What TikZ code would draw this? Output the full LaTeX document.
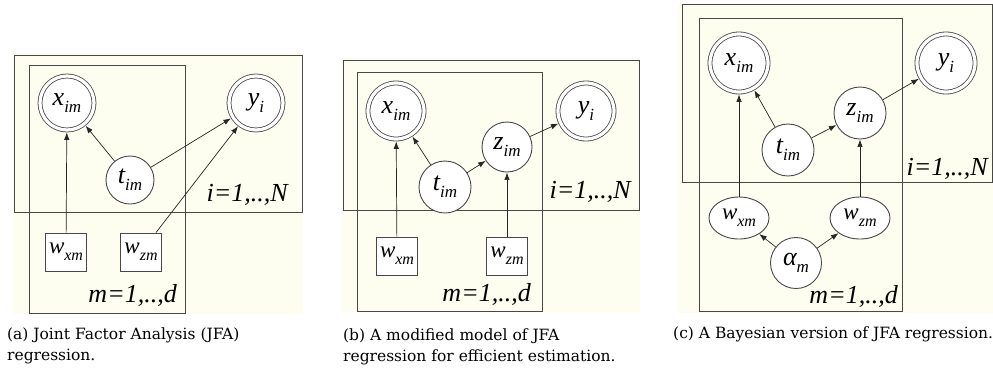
\documentclass[tikz,border=0pt]{standalone}
\usepackage{fontspec}
\setmainfont{Liberation Serif}
\newfontfamily\lblfont{Liberation Serif}
\newfontfamily\capfont{DejaVu Serif}
\usetikzlibrary{arrows.meta,shapes.geometric}
\definecolor{cream}{RGB}{253,253,240}
\definecolor{ln}{RGB}{72,72,72}
\newcommand\vlab[2]{\lblfont\fontsize{26}{26}\selectfont\itshape #1\raisebox{-7pt}{\fontsize{17}{17}\selectfont #2}}
\newcommand\wlab[2]{\lblfont\fontsize{23}{23}\selectfont\itshape #1\raisebox{-7pt}{\fontsize{16}{16}\selectfont #2}}
\tikzset{
  bg/.style={fill=cream, draw=none},
  plate/.style={draw=ln, line width=1pt},
  obs/.style={circle, draw=ln, double, double distance=3.2pt, line width=0.8pt, fill=white, inner sep=0pt, minimum size=#1, outer sep=2.4pt},
  lat/.style={circle, draw=ln, line width=0.9pt, fill=white, inner sep=0pt, minimum size=#1},
  sq/.style={rectangle, draw=ln, line width=0.9pt, fill=white, inner sep=0pt, minimum width=41pt, minimum height=38pt},
  ell/.style={ellipse, draw=ln, line width=0.9pt, fill=white, inner sep=0pt, minimum width=60pt, minimum height=42pt},
  arr/.style={draw=black!85, line width=0.7pt, -{Latex[length=7.5pt,width=5.5pt]}},
  platelab/.style={anchor=base east, inner sep=0pt, font=\lblfont\fontsize{26}{26}\selectfont\itshape},
  captxt/.style={anchor=base west, inner sep=0pt, font=\capfont\fontsize{15.5}{15.5}\selectfont}
}
\begin{document}
\begin{tikzpicture}[x=1pt,y=-1pt]
\useasboundingbox (0,0) rectangle (993,376);
% ---------- panel (a)
\path[bg] (13,53) rectangle (303,314);
\draw[plate] (14,55) rectangle (302,212);
\draw[plate] (29,65) rectangle (185,313);
\node[obs=54] (ax) at (67,103) {\vlab{x}{im}};
\node[obs=54] (ay) at (256,103) {\vlab{y}{i}};
\node[lat=48] (at) at (130,180) {\vlab{t}{im}};
\node[sq] (awx) at (66,252) {\wlab{w}{xm}};
\node[sq] (awz) at (141,252) {\wlab{w}{zm}};
\node[platelab] (ai) at (288,201) {i=1,..,N};
\node[platelab] (am) at (177,302) {m=1,..,d};
\draw[arr] (awx) -- (ax);
\draw[arr] (at) -- (ax);
\draw[arr] (at) -- (ay);
\draw[arr] (awz) -- (ay);
\node[captxt] (acap1) at (7,339) {(a) Joint Factor Analysis (JFA)};
\node[captxt] (acap2) at (7,360) {regression.};
% ---------- panel (b)
\path[bg] (342,58) rectangle (640,312);
\draw[plate] (343,60) rectangle (639,210);
\draw[plate] (357,72) rectangle (542,311);
\node[obs=56] (bx) at (396,111) {\vlab{x}{im}};
\node[obs=56] (by) at (586,111) {\vlab{y}{i}};
\node[lat=50] (bz) at (507,147) {\vlab{z}{im}};
\node[lat=52] (bt) at (445,187) {\vlab{t}{im}};
\node[sq] (bwx) at (397,256) {\wlab{w}{xm}};
\node[sq] (bwz) at (507,256) {\wlab{w}{zm}};
\node[platelab] (bi) at (631,198) {i=1,..,N};
\node[platelab] (bm) at (531,301) {m=1,..,d};
\draw[arr] (bwx) -- (bx);
\draw[arr] (bt) -- (bx);
\draw[arr] (bt) -- (bz);
\draw[arr] (bz) -- (by);
\draw[arr] (bwz) -- (bz);
\node[captxt] (bcap1) at (343,340) {(b) A modified model of JFA};
\node[captxt] (bcap2) at (343,361) {regression for efficient estimation.};
% ---------- panel (c)
\path[bg] (678,3) rectangle (993,313);
\draw[plate] (682,4) rectangle (992,182);
\draw[plate] (699,18) rectangle (902,311);
\node[obs=58] (cx) at (739,63) {\vlab{x}{im}};
\node[obs=58] (cy) at (946,63) {\vlab{y}{i}};
\node[lat=52] (cz) at (860,113) {\vlab{z}{im}};
\node[lat=52] (ct) at (788,150) {\vlab{t}{im}};
\node[ell] (cwx) at (739,218) {\wlab{w}{xm}};
\node[ell] (cwz) at (860,218) {\wlab{w}{zm}};
\node[lat=51] (ca) at (796,263) {\vlab{α}{m}};
\node[platelab] (ci) at (988,175) {i=1,..,N};
\node[platelab] (cm) at (898,303) {m=1,..,d};
\draw[arr] (cwx) -- (cx);
\draw[arr] (ct) -- (cx);
\draw[arr] (ct) -- (cz);
\draw[arr] (cz) -- (cy);
\draw[arr] (cwz) -- (cz);
\draw[arr] (ca) -- (cwx);
\draw[arr] (ca) -- (cwz);
\node[captxt] (ccap) at (673,338) {(c) A Bayesian version of JFA regression.};
\end{tikzpicture}
\end{document}
